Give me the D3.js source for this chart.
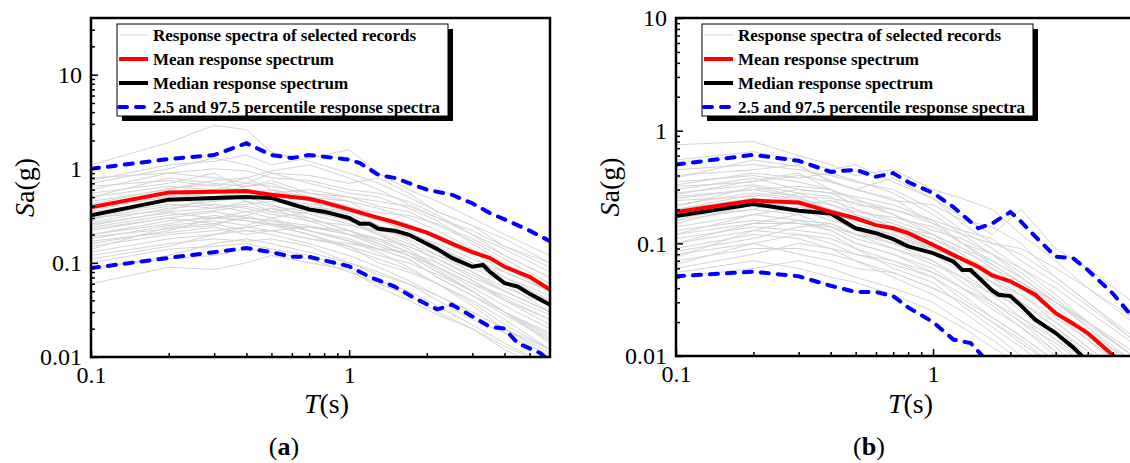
<!DOCTYPE html>
<html>
<head>
<meta charset="utf-8">
<title>Response spectra</title>
<script src="https://cdn.jsdelivr.net/npm/d3@7"></script>
<style>
  body { margin: 0; background: #fff; }
</style>
</head>
<body>
<svg id="chart" width="1130" height="463" font-family="Liberation Serif"></svg>
<script>
// periods (s) at which the individual records are sampled
var periods = [0.1, 0.2, 0.3, 0.4, 0.5, 0.7, 1, 1.3, 1.7, 2.2, 3, 4, 6];

// (a) response spectra of selected records
var recordsA = [
  [1.1, 1.9, 2.9, 2.6, 1.5, 1.2, 0.9, 0.7, 0.5, 0.35, 0.25, 0.18, 0.10],
  [0.75, 1.1, 1.2, 1.4, 1.1, 1.3, 1.6, 0.9, 0.6, 0.45, 0.3, 0.2, 0.12],
  [0.6, 0.9, 1.0, 0.95, 0.8, 0.75, 0.6, 0.55, 0.45, 0.32, 0.2, 0.14, 0.08],
  [0.5, 0.8, 0.7, 0.65, 0.7, 0.5, 0.45, 0.3, 0.25, 0.2, 0.13, 0.08, 0.05],
  [0.45, 0.6, 0.75, 0.8, 0.6, 0.45, 0.35, 0.28, 0.22, 0.15, 0.1, 0.07, 0.04],
  [0.4, 0.55, 0.5, 0.55, 0.6, 0.5, 0.4, 0.3, 0.2, 0.13, 0.08, 0.05, 0.03],
  [0.35, 0.45, 0.6, 0.45, 0.4, 0.35, 0.3, 0.25, 0.18, 0.12, 0.09, 0.06, 0.04],
  [0.3, 0.4, 0.45, 0.5, 0.42, 0.3, 0.22, 0.17, 0.13, 0.09, 0.06, 0.04, 0.025],
  [0.28, 0.5, 0.4, 0.35, 0.38, 0.28, 0.2, 0.18, 0.15, 0.11, 0.07, 0.05, 0.03],
  [0.25, 0.35, 0.38, 0.42, 0.45, 0.4, 0.33, 0.25, 0.17, 0.1, 0.065, 0.04, 0.022],
  [0.22, 0.3, 0.35, 0.3, 0.28, 0.25, 0.2, 0.15, 0.12, 0.08, 0.05, 0.03, 0.018],
  [0.2, 0.28, 0.3, 0.35, 0.3, 0.22, 0.17, 0.14, 0.11, 0.07, 0.045, 0.028, 0.015],
  [0.18, 0.25, 0.28, 0.25, 0.3, 0.35, 0.28, 0.2, 0.14, 0.09, 0.055, 0.035, 0.02],
  [0.16, 0.22, 0.3, 0.28, 0.25, 0.2, 0.15, 0.1, 0.08, 0.06, 0.04, 0.025, 0.012],
  [0.15, 0.2, 0.22, 0.24, 0.22, 0.18, 0.15, 0.12, 0.1, 0.075, 0.05, 0.03, 0.017],
  [0.13, 0.18, 0.2, 0.22, 0.2, 0.16, 0.12, 0.09, 0.065, 0.045, 0.03, 0.02, 0.012],
  [0.12, 0.16, 0.18, 0.17, 0.18, 0.15, 0.1, 0.08, 0.06, 0.04, 0.025, 0.018, 0.01],
  [0.1, 0.14, 0.15, 0.16, 0.14, 0.12, 0.09, 0.065, 0.05, 0.035, 0.022, 0.014, 0.008],
  [0.09, 0.11, 0.12, 0.14, 0.13, 0.11, 0.08, 0.06, 0.045, 0.03, 0.02, 0.012, 0.007],
  [0.06, 0.09, 0.085, 0.1, 0.12, 0.1, 0.085, 0.055, 0.04, 0.028, 0.02, 0.013, 0.008],
  [0.8, 0.9, 0.8, 0.7, 0.9, 0.85, 0.7, 0.8, 0.55, 0.35, 0.25, 0.15, 0.09],
  [0.55, 0.7, 0.9, 0.6, 0.55, 0.6, 0.5, 0.4, 0.35, 0.25, 0.17, 0.11, 0.06],
  [0.38, 0.5, 0.55, 0.65, 0.75, 0.55, 0.45, 0.38, 0.3, 0.22, 0.14, 0.09, 0.05],
  [0.32, 0.42, 0.38, 0.45, 0.35, 0.4, 0.35, 0.3, 0.26, 0.18, 0.12, 0.07, 0.045],
  [0.27, 0.38, 0.42, 0.38, 0.33, 0.28, 0.25, 0.22, 0.2, 0.16, 0.11, 0.08, 0.05],
  [0.24, 0.32, 0.36, 0.4, 0.35, 0.3, 0.22, 0.16, 0.12, 0.09, 0.06, 0.045, 0.028],
  [0.2, 0.26, 0.32, 0.28, 0.26, 0.24, 0.2, 0.16, 0.12, 0.08, 0.05, 0.03, 0.014],
  [0.14, 0.24, 0.26, 0.3, 0.28, 0.22, 0.17, 0.13, 0.09, 0.06, 0.038, 0.022, 0.012],
  [0.5, 0.65, 0.6, 0.7, 0.65, 0.55, 0.5, 0.45, 0.4, 0.3, 0.22, 0.15, 0.1],
  [0.11, 0.15, 0.2, 0.24, 0.26, 0.22, 0.18, 0.14, 0.11, 0.07, 0.045, 0.03, 0.016],
  [0.7, 1.0, 1.3, 1.1, 0.9, 0.7, 0.55, 0.5, 0.38, 0.28, 0.16, 0.1, 0.05],
  [0.65, 0.75, 0.65, 0.8, 0.95, 1.1, 0.8, 0.6, 0.42, 0.3, 0.2, 0.12, 0.07],
  [0.42, 0.62, 0.68, 0.55, 0.48, 0.42, 0.38, 0.34, 0.32, 0.26, 0.18, 0.12, 0.07],
  [0.36, 0.52, 0.46, 0.5, 0.52, 0.46, 0.28, 0.21, 0.16, 0.12, 0.08, 0.055, 0.035],
  [0.3, 0.36, 0.5, 0.6, 0.48, 0.36, 0.3, 0.22, 0.19, 0.14, 0.1, 0.06, 0.03],
  [0.26, 0.34, 0.3, 0.32, 0.38, 0.33, 0.26, 0.2, 0.15, 0.11, 0.075, 0.05, 0.03],
  [0.23, 0.3, 0.26, 0.22, 0.22, 0.18, 0.16, 0.14, 0.13, 0.1, 0.065, 0.042, 0.025],
  [0.19, 0.23, 0.25, 0.32, 0.26, 0.2, 0.14, 0.11, 0.085, 0.06, 0.035, 0.02, 0.01],
  [0.17, 0.21, 0.24, 0.2, 0.22, 0.24, 0.22, 0.18, 0.13, 0.085, 0.05, 0.03, 0.015],
  [0.085, 0.12, 0.16, 0.18, 0.16, 0.13, 0.1, 0.075, 0.06, 0.045, 0.03, 0.02, 0.011]
];

// (b) response spectra of selected records
var recordsB = [
  [0.75, 0.8, 0.6, 0.5, 0.4, 0.45, 0.3, 0.25, 0.2, 0.12, 0.07, 0.04, 0.02],
  [0.55, 0.65, 0.55, 0.45, 0.5, 0.35, 0.25, 0.17, 0.12, 0.2, 0.09, 0.06, 0.03],
  [0.45, 0.5, 0.45, 0.4, 0.35, 0.3, 0.2, 0.13, 0.09, 0.06, 0.035, 0.02, 0.01],
  [0.4, 0.45, 0.5, 0.35, 0.3, 0.25, 0.15, 0.12, 0.1, 0.08, 0.05, 0.03, 0.015],
  [0.35, 0.4, 0.35, 0.3, 0.25, 0.18, 0.12, 0.08, 0.05, 0.035, 0.02, 0.012, 0.006],
  [0.3, 0.38, 0.3, 0.28, 0.22, 0.2, 0.15, 0.1, 0.07, 0.05, 0.03, 0.018, 0.009],
  [0.28, 0.33, 0.28, 0.22, 0.18, 0.14, 0.1, 0.07, 0.045, 0.03, 0.018, 0.01, 0.005],
  [0.25, 0.3, 0.32, 0.3, 0.2, 0.16, 0.12, 0.09, 0.06, 0.04, 0.025, 0.015, 0.008],
  [0.22, 0.28, 0.25, 0.2, 0.17, 0.13, 0.09, 0.06, 0.04, 0.025, 0.014, 0.008, 0.004],
  [0.2, 0.25, 0.22, 0.24, 0.2, 0.15, 0.1, 0.065, 0.04, 0.03, 0.02, 0.012, 0.006],
  [0.18, 0.24, 0.2, 0.18, 0.14, 0.11, 0.08, 0.055, 0.035, 0.022, 0.012, 0.007, 0.003],
  [0.17, 0.2, 0.18, 0.2, 0.15, 0.12, 0.09, 0.07, 0.05, 0.03, 0.018, 0.011, 0.005],
  [0.15, 0.22, 0.22, 0.17, 0.13, 0.1, 0.07, 0.045, 0.03, 0.02, 0.011, 0.006, 0.003],
  [0.14, 0.18, 0.16, 0.15, 0.12, 0.09, 0.065, 0.05, 0.035, 0.028, 0.016, 0.009, 0.004],
  [0.13, 0.16, 0.15, 0.13, 0.1, 0.08, 0.06, 0.04, 0.028, 0.018, 0.01, 0.006, 0.003],
  [0.12, 0.15, 0.18, 0.14, 0.11, 0.09, 0.07, 0.05, 0.03, 0.02, 0.013, 0.008, 0.004],
  [0.11, 0.14, 0.13, 0.12, 0.09, 0.07, 0.05, 0.035, 0.022, 0.015, 0.009, 0.005, 0.002],
  [0.1, 0.13, 0.12, 0.1, 0.08, 0.07, 0.055, 0.04, 0.03, 0.022, 0.014, 0.009, 0.005],
  [0.09, 0.12, 0.11, 0.09, 0.07, 0.055, 0.04, 0.03, 0.02, 0.013, 0.008, 0.005, 0.002],
  [0.08, 0.1, 0.12, 0.11, 0.09, 0.06, 0.045, 0.028, 0.018, 0.012, 0.007, 0.004, 0.002],
  [0.07, 0.09, 0.09, 0.08, 0.07, 0.05, 0.035, 0.025, 0.016, 0.01, 0.006, 0.003, 0.0015],
  [0.065, 0.1, 0.08, 0.07, 0.06, 0.055, 0.04, 0.03, 0.02, 0.014, 0.008, 0.005, 0.002],
  [0.06, 0.08, 0.1, 0.09, 0.08, 0.065, 0.05, 0.032, 0.022, 0.015, 0.009, 0.005, 0.0025],
  [0.055, 0.07, 0.06, 0.05, 0.045, 0.035, 0.025, 0.018, 0.012, 0.008, 0.005, 0.003, 0.0015],
  [0.05, 0.06, 0.07, 0.06, 0.05, 0.04, 0.03, 0.02, 0.014, 0.009, 0.006, 0.0035, 0.0018],
  [0.32, 0.35, 0.4, 0.35, 0.3, 0.38, 0.25, 0.15, 0.1, 0.09, 0.06, 0.04, 0.022],
  [0.26, 0.3, 0.26, 0.25, 0.23, 0.18, 0.13, 0.11, 0.08, 0.06, 0.04, 0.025, 0.013],
  [0.2, 0.27, 0.24, 0.22, 0.19, 0.17, 0.14, 0.1, 0.08, 0.055, 0.032, 0.02, 0.011],
  [0.16, 0.2, 0.28, 0.26, 0.18, 0.14, 0.11, 0.08, 0.055, 0.04, 0.025, 0.016, 0.009],
  [0.085, 0.11, 0.14, 0.15, 0.12, 0.1, 0.08, 0.06, 0.045, 0.03, 0.018, 0.011, 0.006],
  [0.38, 0.55, 0.48, 0.36, 0.3, 0.24, 0.22, 0.16, 0.14, 0.1, 0.05, 0.03, 0.014],
  [0.33, 0.42, 0.38, 0.42, 0.36, 0.28, 0.18, 0.12, 0.08, 0.05, 0.03, 0.02, 0.01],
  [0.27, 0.36, 0.42, 0.3, 0.24, 0.2, 0.16, 0.13, 0.11, 0.07, 0.045, 0.028, 0.014],
  [0.24, 0.26, 0.3, 0.28, 0.26, 0.22, 0.16, 0.1, 0.065, 0.045, 0.03, 0.018, 0.008],
  [0.21, 0.32, 0.26, 0.19, 0.16, 0.14, 0.12, 0.09, 0.07, 0.05, 0.03, 0.02, 0.01],
  [0.19, 0.22, 0.24, 0.2, 0.17, 0.15, 0.11, 0.085, 0.065, 0.045, 0.028, 0.015, 0.007],
  [0.16, 0.25, 0.2, 0.16, 0.14, 0.12, 0.085, 0.06, 0.045, 0.035, 0.022, 0.014, 0.007],
  [0.12, 0.18, 0.21, 0.18, 0.16, 0.13, 0.095, 0.075, 0.055, 0.04, 0.024, 0.014, 0.006],
  [0.1, 0.15, 0.15, 0.14, 0.12, 0.11, 0.09, 0.07, 0.06, 0.045, 0.03, 0.019, 0.01],
  [0.075, 0.13, 0.16, 0.13, 0.1, 0.08, 0.055, 0.04, 0.026, 0.018, 0.011, 0.006, 0.003]
];

// (a) statistics
var meanTA = [0.1, 0.2, 0.3, 0.4, 0.5, 0.7, 0.8, 1, 1.2, 1.5, 2, 2.5, 3, 3.5, 4, 5, 6];
var meanA = [0.39, 0.56, 0.57, 0.58, 0.53, 0.48, 0.44, 0.37, 0.32, 0.27, 0.21, 0.16, 0.13, 0.113, 0.091, 0.071, 0.052];
var medTA = [0.1, 0.2, 0.3, 0.4, 0.5, 0.6, 0.7, 0.8, 1, 1.1, 1.2, 1.3, 1.5, 1.7, 2, 2.2, 2.5, 3, 3.3, 3.5, 4, 4.5, 5, 6];
var medA = [0.32, 0.47, 0.49, 0.5, 0.49, 0.42, 0.37, 0.35, 0.3, 0.26, 0.26, 0.23, 0.22, 0.2, 0.16, 0.14, 0.113, 0.091, 0.095, 0.081, 0.061, 0.056, 0.047, 0.036];
var upTA = [0.1, 0.2, 0.3, 0.4, 0.5, 0.6, 0.7, 1, 1.1, 1.3, 1.5, 2, 2.5, 3, 3.5, 4, 5, 6];
var upA = [1.0, 1.27, 1.4, 1.87, 1.4, 1.3, 1.4, 1.25, 1.15, 0.86, 0.8, 0.6, 0.53, 0.43, 0.34, 0.29, 0.22, 0.17];
var loTA = [0.1, 0.2, 0.3, 0.4, 0.5, 0.6, 0.7, 1, 1.2, 1.5, 1.8, 2.2, 2.5, 3, 3.5, 4, 4.5, 5.5, 6];
var loA = [0.088, 0.113, 0.13, 0.144, 0.13, 0.116, 0.116, 0.092, 0.071, 0.056, 0.042, 0.032, 0.036, 0.027, 0.021, 0.02, 0.014, 0.011, 0.009];

// (b) statistics
var meanTB = [0.1, 0.2, 0.3, 0.4, 0.5, 0.6, 0.7, 0.8, 1, 1.2, 1.5, 1.7, 2, 2.5, 3, 3.5, 4, 5, 6];
var meanB = [0.19, 0.24, 0.23, 0.19, 0.167, 0.145, 0.136, 0.123, 0.097, 0.079, 0.062, 0.052, 0.046, 0.035, 0.024, 0.0194, 0.016, 0.0102, 0.007];
var medTB = [0.1, 0.2, 0.3, 0.4, 0.5, 0.6, 0.7, 0.8, 1, 1.2, 1.3, 1.4, 1.5, 1.7, 1.8, 2, 2.2, 2.5, 3, 3.5, 3.8, 4.5];
var medB = [0.175, 0.223, 0.195, 0.184, 0.136, 0.123, 0.109, 0.094, 0.082, 0.069, 0.058, 0.058, 0.05, 0.038, 0.035, 0.034, 0.028, 0.021, 0.016, 0.012, 0.01, 0.007];
var upTB = [0.1, 0.2, 0.3, 0.4, 0.5, 0.6, 0.7, 0.8, 1, 1.2, 1.5, 1.7, 2, 2.2, 2.5, 3, 3.5, 4, 5, 6];
var upB = [0.5, 0.61, 0.54, 0.43, 0.45, 0.39, 0.42, 0.35, 0.28, 0.21, 0.136, 0.15, 0.19, 0.156, 0.115, 0.076, 0.074, 0.058, 0.036, 0.022];
var loTB = [0.1, 0.2, 0.3, 0.4, 0.5, 0.6, 0.7, 0.8, 1, 1.2, 1.4, 1.5, 1.7];
var loB = [0.051, 0.056, 0.051, 0.042, 0.037, 0.037, 0.034, 0.027, 0.02, 0.014, 0.013, 0.011, 0.008];

var legendLabels = ["Response spectra of selected records", "Mean response spectrum",
  "Median response spectrum", "2.5 and 97.5 percentile response spectra"];
var xTicks = [0.1, 1];
var yTicksA = [0.01, 0.1, 1, 10];
var yTicksB = [0.01, 0.1, 1, 10];

var FONT = "Liberation Serif";
var svg = d3.select("#chart");

function minorTicks(lo, hi) {
  var out = [];
  for (var e = -3; e <= 2; e++) {
    for (var m = 2; m <= 9; m++) {
      var v = m * Math.pow(10, e);
      if (v > lo && v < hi) out.push(v);
    }
  }
  return out;
}

function drawPanel(p) {
  var x = d3.scaleLog().domain([0.1, 6]).range([p.left, p.right]);
  var y = d3.scaleLog().domain(p.yDomain).range([p.bottom, p.top]);
  var g = svg.append("g").attr("font-family", FONT);

  g.append("clipPath").attr("id", "clip" + p.id)
    .append("rect").attr("x", p.left).attr("y", p.top)
    .attr("width", p.right - p.left).attr("height", p.bottom - p.top);

  var plot = g.append("g").attr("clip-path", "url(#clip" + p.id + ")");
  var line = d3.line().x(function(d) { return x(d[0]); }).y(function(d) { return y(d[1]); });

  p.records.forEach(function(r) {
    plot.append("path").attr("d", line(d3.zip(periods, r)))
      .attr("fill", "none").attr("stroke", "#d3d3d3").attr("stroke-width", 1);
  });
  [[p.loT, p.lo], [p.upT, p.up]].forEach(function(s) {
    plot.append("path").attr("d", line(d3.zip(s[0], s[1])))
      .attr("fill", "none").attr("stroke", "#0000ff").attr("stroke-width", 4)
      .attr("stroke-dasharray", "8,9").attr("stroke-linecap", "round");
  });
  plot.append("path").attr("d", line(d3.zip(p.medT, p.med)))
    .attr("fill", "none").attr("stroke", "#000").attr("stroke-width", 4);
  plot.append("path").attr("d", line(d3.zip(p.meanT, p.mean)))
    .attr("fill", "none").attr("stroke", "#ff0000").attr("stroke-width", 4);

  // axes: ticks point inward
  var xAxis = g.append("g").attr("transform", "translate(0," + p.bottom + ")")
    .call(d3.axisBottom(x).tickValues(xTicks).tickFormat(d3.format("")).tickSize(-7).tickSizeOuter(0).tickPadding(8));
  g.append("g").attr("transform", "translate(0," + p.bottom + ")")
    .call(d3.axisBottom(x).tickValues(minorTicks(0.1, 6)).tickFormat("").tickSize(-4).tickSizeOuter(0));
  g.append("g").attr("transform", "translate(" + p.left + ",0)")
    .call(d3.axisLeft(y).tickValues(p.yTicks).tickFormat(d3.format("")).tickSize(-7).tickSizeOuter(0).tickPadding(9));
  g.append("g").attr("transform", "translate(" + p.left + ",0)")
    .call(d3.axisLeft(y).tickValues(minorTicks(p.yDomain[0], p.yDomain[1])).tickFormat("").tickSize(-4).tickSizeOuter(0));
  g.selectAll(".domain").remove();
  g.selectAll(".tick line").attr("stroke", "#000").attr("stroke-width", 1.5);
  g.selectAll("g").filter(function() { return this.hasAttribute("font-family"); })
    .attr("font-family", FONT).attr("font-size", 24);
  g.selectAll(".tick text").attr("fill", "#000");
  xAxis.selectAll(".tick text").attr("dy", "0.75em");

  g.append("rect").attr("x", p.left).attr("y", p.top)
    .attr("width", p.right - p.left).attr("height", p.bottom - p.top)
    .attr("fill", "none").attr("stroke", "#000").attr("stroke-width", 2.5);

  // axis titles
  var xt = g.append("text").attr("x", (p.left + p.right) / 2 + 6).attr("y", 413)
    .attr("text-anchor", "middle").attr("font-size", 28);
  xt.append("tspan").attr("font-style", "italic").text("T");
  xt.append("tspan").text("(s)");

  var yt = g.append("text").attr("transform", "translate(" + (p.left - 57) + "," + ((p.top + p.bottom) / 2) + ") rotate(-90)")
    .attr("text-anchor", "middle").attr("font-size", 28);
  yt.append("tspan").attr("font-style", "italic").text("S");
  yt.append("tspan").text("a(g)");

  var cap = g.append("text").attr("x", p.capX).attr("y", 455)
    .attr("text-anchor", "middle").attr("font-size", 26);
  cap.append("tspan").text("(");
  cap.append("tspan").attr("font-weight", "bold").text(p.id);
  cap.append("tspan").text(")");

  // legend
  var lx = p.left + 26, ly = 24, lw = 331, lh = 92;
  var leg = g.append("g").attr("font-size", 17).attr("font-weight", "bold");
  leg.append("rect").attr("x", lx + 5).attr("y", ly + 5).attr("width", lw).attr("height", lh).attr("fill", "#000");
  leg.append("rect").attr("x", lx).attr("y", ly).attr("width", lw).attr("height", lh)
    .attr("fill", "#fff").attr("stroke", "#000").attr("stroke-width", 1);
  var styles = [
    { c: "#d3d3d3", w: 1, dash: null },
    { c: "#ff0000", w: 4, dash: null },
    { c: "#000", w: 4, dash: null },
    { c: "#0000ff", w: 4, dash: "8,9" }
  ];
  legendLabels.forEach(function(t, i) {
    var cy = ly + 11 + i * 24;
    leg.append("line").attr("x1", lx + 2).attr("x2", lx + 31).attr("y1", cy).attr("y2", cy)
      .attr("stroke", styles[i].c).attr("stroke-width", styles[i].w)
      .attr("stroke-dasharray", styles[i].dash).attr("stroke-linecap", styles[i].dash ? "round" : "butt");
    leg.append("text").attr("x", lx + 36).attr("y", cy + 5.5).text(t);
  });
}

drawPanel({ id: "a", left: 91, right: 550, top: 18, bottom: 357, yDomain: [0.01, 40], yTicks: yTicksA,
  records: recordsA, meanT: meanTA, mean: meanA, medT: medTA, med: medA,
  upT: upTA, up: upA, loT: loTA, lo: loA, capX: 284 });
drawPanel({ id: "b", left: 676, right: 1133, top: 18, bottom: 356, yDomain: [0.01, 10], yTicks: yTicksB,
  records: recordsB, meanT: meanTB, mean: meanB, medT: medTB, med: medB,
  upT: upTB, up: upB, loT: loTB, lo: loB, capX: 869 });
</script>
</body>
</html>
